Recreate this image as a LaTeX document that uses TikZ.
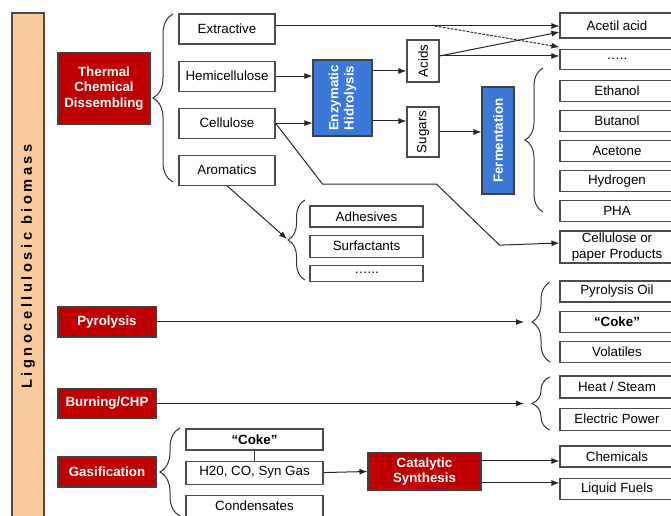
\documentclass[tikz,border=0pt]{standalone}
\usepackage{fontspec}
\setmainfont{Liberation Sans}
\usetikzlibrary{positioning, arrows.meta, decorations.pathreplacing, calc}

\definecolor{dkred}{HTML}{C00000}
\definecolor{fillblue}{HTML}{3C78D8}
\definecolor{peach}{HTML}{F9CB9C}

\begin{document}
\begin{tikzpicture}[
        x=0.75pt, y=-0.75pt,
        font=\fontsize{10}{11.5}\selectfont,
        box/.style={draw=black!70, fill=white, line width=0.8pt, inner sep=0pt, align=center, minimum height=15.75pt},
        outbox/.style={box, minimum width=85.5pt},
        redbox/.style={draw=black!75, fill=dkred, text=white, line width=0.8pt, inner sep=0pt, align=center, font=\fontsize{10}{11.5}\selectfont\bfseries},
        bluebox/.style={draw=black!75, fill=fillblue, text=white, line width=0.8pt, inner sep=0pt, align=center, rotate=90, font=\fontsize{10}{11.5}\selectfont\bfseries},
        arrow/.style={-{Latex[length=6pt,width=4.5pt]}, line width=0.75pt, draw=black!85},
        brc/.style={decorate, decoration={brace, amplitude=#1}, line width=0.75pt, draw=black!80}
    ]
        \useasboundingbox (0,0) rectangle (671,516);

        % Nodes
        \node[draw=black!70, fill=peach, line width=0.9pt, rotate=90, minimum width=380.25pt, minimum height=24pt, inner sep=0pt,
              font=\fontsize{11}{12}\selectfont\bfseries\addfontfeature{LetterSpace=24}] (bar) at (28,266.5) {Lignocellulosic biomass};

        \node[redbox, minimum width=69pt, minimum height=53.25pt] (thermal) at (104,88.5) {Thermal\\Chemical\\Dissembling};
        \node[redbox, minimum width=73.5pt, minimum height=22.5pt] (pyro) at (107,322) {Pyrolysis};
        \node[redbox, minimum width=73.5pt, minimum height=22.5pt] (burn) at (107,403.5) {Burning/CHP};
        \node[redbox, minimum width=73.5pt, minimum height=22.5pt] (gasif) at (107,472) {Gasification};

        \node[box, minimum width=72pt, minimum height=22.5pt] (extr) at (227,29) {Extractive};
        \node[box, minimum width=72pt, minimum height=22.5pt, below=12pt of extr] (hemi) {Hemicellulose};
        \node[box, minimum width=72pt, minimum height=22.5pt, below=12pt of hemi] (cell) {Cellulose};
        \node[box, minimum width=72pt, minimum height=22.5pt, below=12pt of cell] (arom) {Aromatics};

        \node[bluebox, minimum width=57pt, minimum height=44.25pt] (enz) at (342.5,98) {Enzymatic\\Hidrolysis};
        \node[box, rotate=90, minimum width=31.5pt, minimum height=24pt] (acids) at (423,61) {Acids};
        \node[box, rotate=90, minimum width=37.5pt, minimum height=24pt] (sugars) at (423,132) {Sugars};
        \node[bluebox, minimum width=80.25pt, minimum height=24pt] (ferm) at (498,140.5) {Fermentation};

        \node[outbox, minimum height=18.75pt] (acetil) at (617,25.5) {Acetil acid};
        \node[outbox, minimum height=15pt, below=7.5pt of acetil] (dots) {…..};
        \node[outbox, below=7.5pt of dots] (ethanol) {Ethanol};
        \node[outbox, below=6pt of ethanol] (butanol) {Butanol};
        \node[outbox, below=6pt of butanol] (acetone) {Acetone};
        \node[outbox, below=6pt of acetone] (hydrogen) {Hydrogen};
        \node[outbox, below=6pt of hydrogen] (pha) {PHA};
        \node[outbox, minimum height=24pt] (paper) at (617,247) {Cellulose or\\paper Products};

        \node[box, minimum width=84.75pt] (adh) at (366.5,216.5) {Adhesives};
        \node[box, minimum width=84.75pt, minimum height=16.5pt, below=5.25pt of adh] (surf) {Surfactants};
        \node[box, minimum width=84.75pt, minimum height=12pt, below=5.25pt of surf] (dotsb) {…...};

        \node[outbox] (pyroil) at (617,291.5) {Pyrolysis Oil};
        \node[outbox, below=6pt of pyroil, font=\fontsize{10}{11.5}\selectfont\bfseries] (coke) {“Coke”};
        \node[outbox, below=6pt of coke] (volat) {Volatiles};

        \node[outbox, minimum height=16.5pt] (heat) at (617,387) {Heat / Steam};
        \node[outbox, minimum height=16.5pt, below=6.75pt of heat] (elec) {Electric Power};

        \node[box, minimum width=102.75pt, font=\fontsize{10}{11.5}\selectfont\bfseries] (cokeg) at (254.5,439.5) {“Coke”};
        \node[box, minimum width=102.75pt, minimum height=17.25pt, below=7.5pt of cokeg] (syngas) {H20, CO, Syn Gas};
        \node[box, minimum width=102.75pt, minimum height=16.5pt, below=7.5pt of syngas] (cond) {Condensates};
        \node[redbox, minimum width=84.75pt, minimum height=27.75pt] (catal) at (424.5,471.5) {Catalytic\\Synthesis};

        \node[outbox] (chem) at (617,456.5) {Chemicals};
        \node[outbox, below=7.5pt of chem] (liquid) {Liquid Fuels};

        % Braces
        \draw[brc=15pt] (173,182) -- (173,14);
        \draw[brc=13.5pt] (543,212) -- (543,68);
        \draw[brc=12.75pt] (305,280) -- (305,200);
        \draw[brc=13.5pt] (550,362) -- (550,282);
        \draw[brc=13.5pt] (550,430) -- (550,377);
        \draw[brc=15pt] (180,516) -- (180,428);

        \coordinate (xsplit) at (435,26);
        \coordinate (adhtip) at (287,239);
        \coordinate (pyrotip) at (524,322);
        \coordinate (burntip) at (524,403.5);

        % Arrows
        % Extractive
        \draw[arrow] ([yshift=2.25pt]extr.east) -- ([yshift=2.25pt]extr.east -| acetil.west);
        \draw[arrow, dash pattern=on 2pt off 1pt] (xsplit) -- ([yshift=9pt]dots.west);

        % Hydrolysis and fermentation
        \draw[arrow] (hemi.east) -- (hemi.east -| enz.north);
        \draw[arrow] (cell.east) -- (cell.east -| enz.north);
        \draw[arrow] ([yshift=-7.5pt]acids.north -| enz.south) -- ([yshift=-7.5pt]acids.north);
        \draw[arrow] ([yshift=8.25pt]sugars.north -| enz.south) -- ([yshift=8.25pt]sugars.north);
        \draw[arrow] (sugars.south) -- (sugars.south -| ferm.north);
        \draw[arrow] ([yshift=3.75pt]acids.south) -- ([yshift=-4.9pt]acetil.west);
        \draw[arrow] ([yshift=3.75pt]acids.south) -- ([yshift=3.75pt]acids.south -| dots.west);

        % Cellulose products and aromatics
        \draw[arrow] (cell.east) -- ++(47,61) -- ++(114,0) -- ++(63,61) -- ([yshift=3pt]paper.west);
        \draw[arrow] (arom.south) -- (adhtip);

        % Pyrolysis and burning
        \draw[arrow] (pyro.east) -- (pyrotip);
        \draw[arrow] (burn.east) -- (burntip);

        % Gasification
        \draw[line width=0.75pt, draw=black!75] (cokeg) -- (syngas);
        \draw[arrow] (syngas.east) -- (catal.west);
        \draw[arrow] ([yshift=7.9pt]catal.east) -- ([yshift=7.9pt]catal.east -| chem.west);
        \draw[arrow] ([yshift=-8.6pt]catal.east) -- ([yshift=-8.6pt]catal.east -| liquid.west);
    \end{tikzpicture}
\end{document}
